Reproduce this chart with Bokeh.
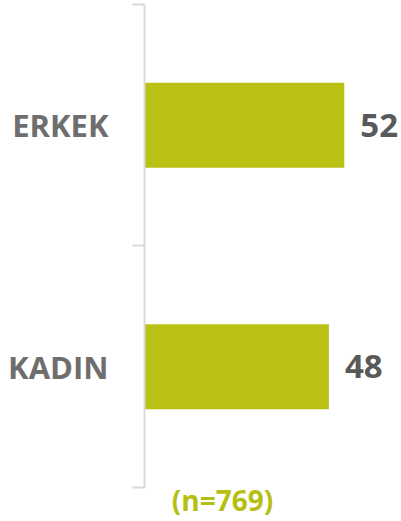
from bokeh.plotting import figure
from bokeh.models import Range1d, FixedTicker, ColumnDataSource, Label
from bokeh.core.properties import value
from bokeh.embed import file_html
from bokeh.resources import INLINE

categories = ["ERKEK", "KADIN"]
values = [52, 48]
sample_note = "(n=769)"

n = len(categories)
ys = [n - i - 0.5 for i in range(n)]
src = ColumnDataSource(dict(y=ys, v=values, lbl=[str(v) for v in values]))

FONT = "Open Sans"
BAR = "#b8c114"

p = figure(width=401, height=521, output_backend="svg", toolbar_location=None,
           x_range=Range1d(0, 66.9), y_range=Range1d(-0.141, 2.0166),
           min_border_left=144, min_border_right=0, min_border_top=0, min_border_bottom=0)
p.outline_line_color = None
p.background_fill_color = "white"
p.border_fill_color = "white"
p.xgrid.visible = False
p.ygrid.visible = False
p.xaxis.visible = False

ax = p.yaxis[0]
ax.ticker = FixedTicker(ticks=ys, minor_ticks=[float(i) for i in range(n + 1)])
ax.major_label_overrides = {y: c for y, c in zip(ys, categories)}
ax.bounds = (0, n)
ax.axis_line_color = "#d9d9d9"
ax.axis_line_width = 2
ax.major_tick_out = 0
ax.major_tick_in = 0
ax.minor_tick_out = 12
ax.minor_tick_in = 0
ax.minor_tick_line_color = "#d9d9d9"
ax.minor_tick_line_width = 2
ax.major_label_standoff = 24
ax.major_label_text_font = FONT
ax.major_label_text_font_style = "bold"
ax.major_label_text_font_size = "31px"
ax.major_label_text_color = "#6e6e6e"

p.hbar(y="y", right="v", left=0, height=0.352, source=src, fill_color=BAR, line_color=None)
p.text(x="v", y="y", text="lbl", source=src, x_offset=16, text_baseline="middle",
       text_align="left", text_font=value(FONT), text_font_style="bold",
       text_font_size="33px", text_color="#595959")

p.add_layout(Label(x=20.3, y=-0.054, text=sample_note, text_align="center",
                   text_baseline="middle", text_font=FONT, text_font_style="bold",
                   text_font_size="28px", text_color="#b5bf13"))

open("out.html", "w").write(file_html(p, INLINE))
